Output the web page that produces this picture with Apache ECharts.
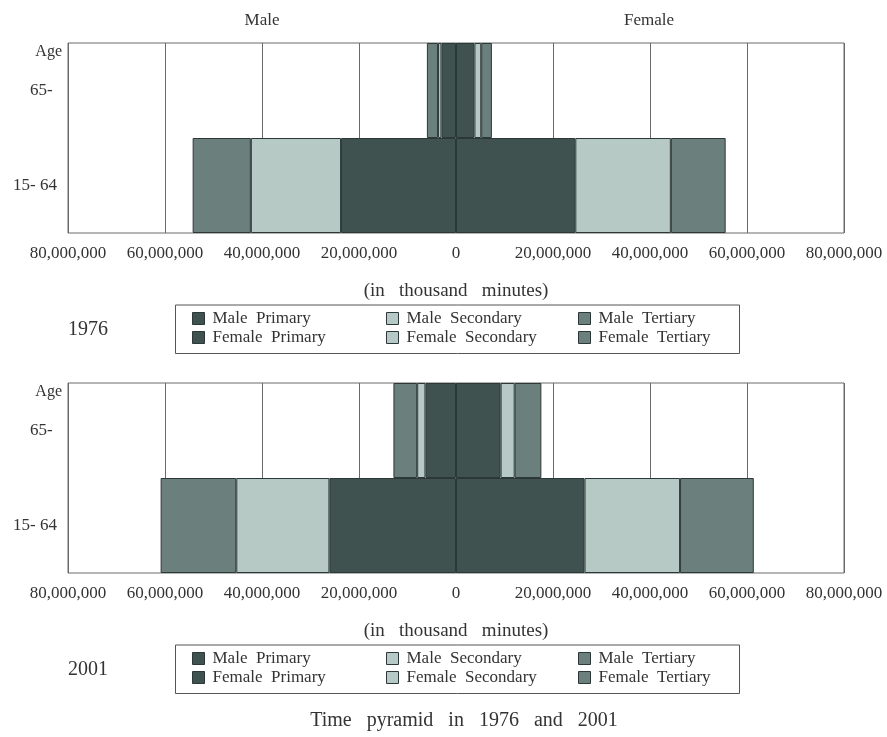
<!DOCTYPE html>
<html>
<head>
<meta charset="utf-8">
<script src="https://cdn.jsdelivr.net/npm/echarts@6/dist/echarts.min.js"></script>
<style>
html,body{margin:0;padding:0;background:#fff;}
#chart{width:887px;height:737px;}
</style>
</head>
<body>
<div id="chart"></div>
<script>
// ---- data (in thousand minutes) ----
const ageGroups = ['15- 64', '65- '];           // bottom -> top
const seriesNames = ['Male Primary', 'Male Secondary', 'Male Tertiary',
                     'Female Primary', 'Female Secondary', 'Female Tertiary'];
const xTicks = [-80000000, -60000000, -40000000, -20000000, 0, 20000000, 40000000, 60000000, 80000000];

// 1976
const male1976Primary     = [23700000, 3000000];
const male1976Secondary   = [18600000, 700000];
const male1976Tertiary    = [12000000, 2300000];
const female1976Primary   = [24600000, 3800000];
const female1976Secondary = [19700000, 1400000];
const female1976Tertiary  = [11300000, 2200000];

// 2001
const male2001Primary     = [26100000, 6300000];
const male2001Secondary   = [19200000, 1700000];
const male2001Tertiary    = [15600000, 4900000];
const female2001Primary   = [26500000, 9200000];
const female2001Secondary = [19700000, 2900000];
const female2001Tertiary  = [15200000, 5500000];

const years = ['1976', '2001'];

// ---- styling ----
const FONT = '"Liberation Serif", "Times New Roman", serif';
const TXT = '#333';
const colors = {
  'Male Primary': '#3f5250', 'Male Secondary': '#b6c9c4', 'Male Tertiary': '#6b807d',
  'Female Primary': '#3f5250', 'Female Secondary': '#b6c9c4', 'Female Tertiary': '#6b807d'
};

const dataSets = [
  [male1976Primary, male1976Secondary, male1976Tertiary, female1976Primary, female1976Secondary, female1976Tertiary],
  [male2001Primary, male2001Secondary, male2001Tertiary, female2001Primary, female2001Secondary, female2001Tertiary]
];

const gridTops = [43, 383];
const OFF = 340;

const grids = gridTops.map(t => ({
  left: 68, right: 43, top: t, height: 190,
  show: true, borderColor: '#6a6a6a', borderWidth: 1, backgroundColor: 'transparent'
}));

const xAxes = gridTops.map((t, i) => ({
  type: 'value', gridIndex: i,
  min: xTicks[0], max: xTicks[xTicks.length - 1], interval: 20000000,
  axisLine: {show: false, onZero: false}, axisTick: {show: false},
  splitLine: {show: true, lineStyle: {color: '#6a6a6a', width: 1}},
  axisLabel: {
    fontFamily: FONT, fontSize: 17, color: TXT, margin: 12,
    showMinLabel: true, showMaxLabel: true,
    formatter: v => Math.abs(v).toLocaleString('en-US')
  },
  name: '(in   thousand   minutes)', nameLocation: 'middle', nameGap: 49,
  nameTextStyle: {fontFamily: FONT, fontSize: 19, color: TXT}
}));

const yAxes = gridTops.map((t, i) => ({
  type: 'category', gridIndex: i, data: ageGroups,
  axisLine: {show: false, onZero: false}, axisTick: {show: false},
  axisLabel: {fontFamily: FONT, fontSize: 17, color: TXT, margin: 11},
  name: 'Age', nameLocation: 'end', nameGap: -9,
  nameTextStyle: {fontFamily: FONT, fontSize: 16, color: TXT, align: 'right', verticalAlign: 'middle', padding: [0, 6, 0, 0]}
}));

const series = [];
dataSets.forEach((set, g) => {
  set.forEach((vals, k) => {
    const name = seriesNames[k];
    const male = k < 3;
    series.push({
      name: name, type: 'bar', xAxisIndex: g, yAxisIndex: g,
      stack: 'pyr' + g, barWidth: '100%', barCategoryGap: 0,
      data: vals.map(v => male ? -v : v),
      itemStyle: {color: colors[name], borderColor: '#2c3837', borderWidth: 1},
      emphasis: {disabled: true}
    });
  });
});

const legendCols = [
  {left: 192, names: ['Male Primary', 'Female Primary']},
  {left: 386, names: ['Male Secondary', 'Female Secondary']},
  {left: 578, names: ['Male Tertiary', 'Female Tertiary']}
];
const legends = [];
[0, 1].forEach(g => {
  legendCols.forEach(c => {
    legends.push({
      orient: 'vertical', left: c.left, top: 309 + g * OFF,
      padding: 0, itemWidth: 12, itemHeight: 12, itemGap: 0, icon: 'rect',
      data: c.names, selectedMode: false,
      formatter: n => n.replace(' ', '  '),
      itemStyle: {borderColor: '#2c3837', borderWidth: 1},
      textStyle: {fontFamily: FONT, fontSize: 17, color: TXT, lineHeight: 19, padding: [0, 0, 0, 3]}
    });
  });
});

const titles = [
  {text: 'Male', left: 262, top: 12},
  {text: 'Female', left: 649, top: 12},
  {text: years[0], left: 88, top: 320, fs: 20},
  {text: years[1], left: 88, top: 320 + OFF, fs: 20},
  {text: 'Time   pyramid   in   1976   and   2001', left: 464, top: 711, fs: 20}
].map(t => ({
  text: t.text, left: t.left, top: t.top, textAlign: 'center', padding: 0,
  textStyle: {fontFamily: FONT, fontSize: t.fs || 17, fontWeight: 'normal', color: TXT}
}));

const graphics = [0, 1].map(g => ({
  type: 'rect', left: 173, top: 302.5 + g * OFF,
  shape: {width: 564, height: 48.5},
  style: {fill: 'none', stroke: '#555', lineWidth: 1}, silent: true
}));

const chart = echarts.init(document.getElementById('chart'), null, {renderer: 'canvas'});
chart.setOption({
  animation: false,
  backgroundColor: '#fff',
  title: titles,
  legend: legends,
  grid: grids,
  xAxis: xAxes,
  yAxis: yAxes,
  series: series,
  graphic: graphics
});
</script>
</body>
</html>
